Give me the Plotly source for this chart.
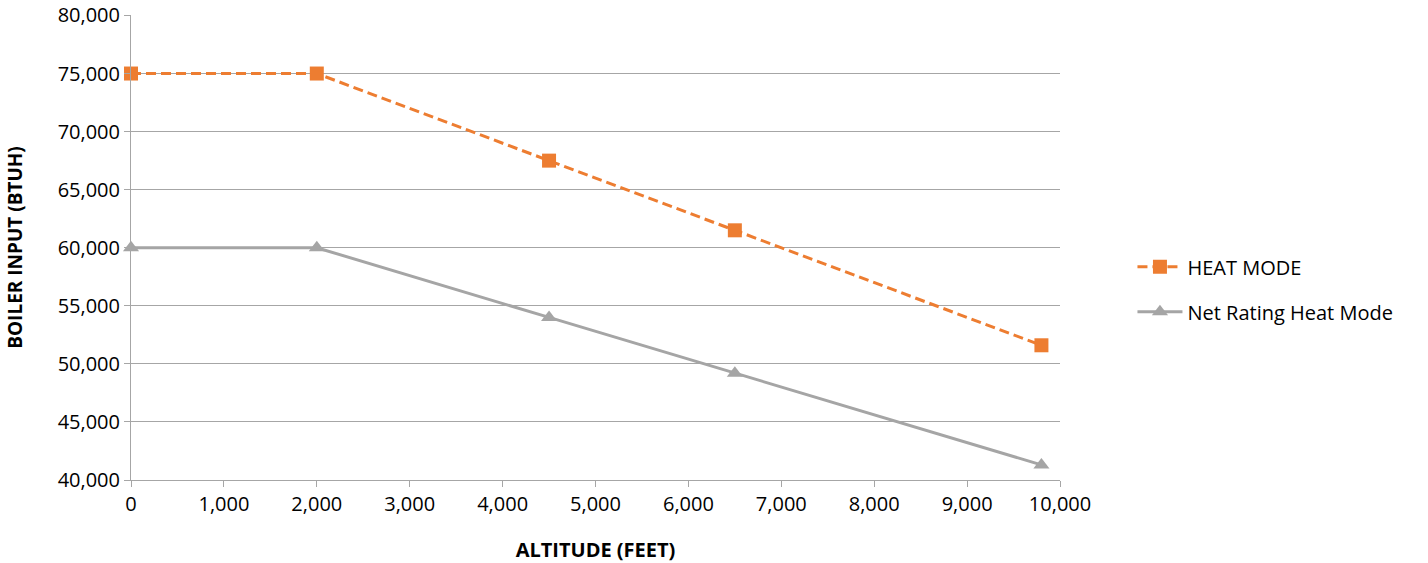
import plotly.graph_objects as go

altitude = [0, 2000, 4500, 6500, 9800]
heat_mode = [75000, 75000, 67500, 61500, 51600]
net_rating = [60000, 60000, 54000, 49200, 41300]

x_ticks = list(range(0, 10001, 1000))
y_ticks = list(range(40000, 80001, 5000))

font_family = "'Open Sans', sans-serif"
grid_grey = "#A6A6A6"

fig = go.Figure()

fig.add_trace(go.Scatter(
    x=altitude, y=heat_mode, name="HEAT MODE",
    mode="lines+markers", legendgroup="a", cliponaxis=False,
    line=dict(color="#ED7D31", width=3, dash="10px,5px"),
    marker=dict(symbol="square", size=14, color="#ED7D31"),
))

fig.add_trace(go.Scatter(
    x=altitude, y=net_rating, name="Net Rating Heat Mode",
    mode="lines+markers", legendgroup="b", cliponaxis=False,
    line=dict(color="#A5A5A5", width=3),
    marker=dict(symbol="triangle-up", size=14, color="#A5A5A5"),
))

fig.update_layout(
    width=1428, height=563,
    margin=dict(l=131, r=368, t=15, b=83),
    paper_bgcolor="white", plot_bgcolor="white",
    font=dict(family=font_family, size=20, color="black"),
    legend=dict(x=1.078, y=0.41, xanchor="left", yanchor="middle",
                font=dict(size=20), itemwidth=45, tracegroupgap=16,
                traceorder="grouped"),
    showlegend=True,
)

fig.update_xaxes(
    range=[0, 10000], tickvals=x_ticks, tickformat=",d",
    showgrid=False, showline=True, linecolor=grid_grey, linewidth=1,
    ticks="outside", ticklen=6, tickcolor=grid_grey,
    title=dict(text="<b>ALTITUDE (FEET)</b>", font=dict(size=20), standoff=26),
    zeroline=False, automargin=False,
)

# top of range nudged up a hair so the 80,000 gridline gets drawn
fig.update_yaxes(
    range=[40000, 80040], tickvals=y_ticks, tickformat=",d",
    showgrid=True, gridcolor=grid_grey, gridwidth=1,
    showline=True, linecolor=grid_grey, linewidth=1,
    ticks="outside", ticklen=6, tickcolor=grid_grey,
    title=dict(text="<b>BOILER INPUT (BTUH)</b>", font=dict(size=19), standoff=29),
    zeroline=False, automargin=False,
)

# drop the default body margin so the figure sits at the page corner
fig.write_html("out.html", config={"displayModeBar": False},
               post_script="document.body.style.margin='0';")
